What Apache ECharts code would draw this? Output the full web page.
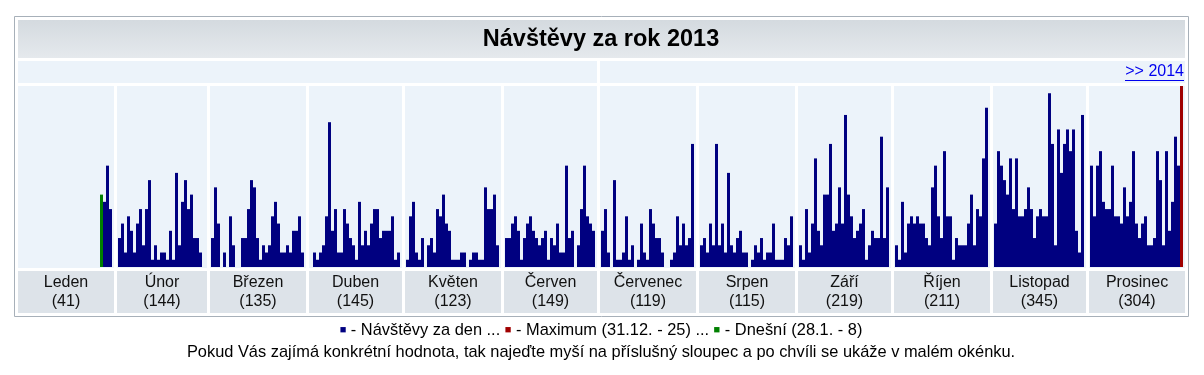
<!DOCTYPE html>
<html><head><meta charset="utf-8">
<script src="https://cdn.jsdelivr.net/npm/echarts@6/dist/echarts.min.js"></script>
<style>html,body{margin:0;padding:0;background:#fff}#c{width:1204px;height:375px}</style>
</head><body><div id="c"></div>
<script>
// ---- data ----
const titleText = 'Návštěvy za rok 2013';
const nextYearLink = '>> 2014';
const monthNames = ['Leden','Únor','Březen','Duben','Květen','Červen','Červenec','Srpen','Září','Říjen','Listopad','Prosinec'];
const leden    = [null,null,null,null,null,null,null,null,null,null,null,null,null,null,null,null,null,null,null,null,null,null,null,null,null,null,null,10,9,14,8];
const unor     = [4,6,2,7,5,2,6,8,3,8,12,1,3,1,2,2,1,5,1,13,3,9,12,8,10,4,4,2];
const brezen   = [4,11,6,0,2,0,7,3,0,0,4,4,8,12,11,4,1,3,2,3,7,9,6,2,2,3,2,5,5,7,2];
const duben    = [0,2,1,2,3,7,20,5,8,2,2,8,6,4,3,1,9,3,5,3,6,8,8,4,5,5,5,7,1,2];
const kveten   = [1,7,9,2,1,4,0,3,4,2,8,7,10,6,5,1,1,1,2,2,0,1,2,2,1,1,11,8,8,10,3];
const cerven   = [4,4,6,7,5,1,4,6,7,5,4,3,4,5,1,4,3,6,2,2,14,4,5,0,3,8,14,7,6,5];
const cervenec = [5,8,2,0,12,1,1,2,7,1,3,0,1,6,2,1,8,6,4,4,2,0,0,1,2,7,3,6,3,4,17];
const srpen    = [3,4,2,6,3,17,3,6,2,13,3,2,4,5,2,2,0,1,3,2,4,1,2,2,6,1,1,1,4,3,7];
const zari     = [3,1,8,2,6,15,5,3,10,10,17,5,6,11,6,21,10,7,4,5,6,8,1,3,5,4,4,18,4,11];
const rijen    = [3,1,9,2,6,7,6,7,6,6,4,3,11,14,7,4,16,7,7,1,4,3,3,3,6,10,3,8,7,15,22];
const listopad = [6,16,14,12,10,15,8,15,7,7,8,11,8,4,7,8,7,7,24,17,3,19,13,17,19,16,19,5,2,21];
const prosinec = [14,7,14,16,9,8,8,14,7,7,6,11,7,9,16,6,4,6,7,3,3,4,16,12,3,16,5,9,18,14,25];
const todayMonth = 0, todayDay = 28;        // green bar (28.1.)
const todayLegend = '28.1. - 8';
const noteText = 'Pokud Vás zajímá konkrétní hodnota, tak najeďte myší na příslušný sloupec a po chvíli se ukáže v malém okénku.';

const months = [leden,unor,brezen,duben,kveten,cerven,cervenec,srpen,zari,rijen,listopad,prosinec];

// ---- derived ----
let maxVal = -1, maxM = 0, maxD = 0;
months.forEach((arr, m) => arr.forEach((v, d) => { if (v != null && v >= maxVal) { maxVal = v; maxM = m; maxD = d + 1; } }));
const totals = months.map(a => a.reduce((s, v) => s + (v || 0), 0));

// ---- layout ----
const FONT = 'Arial, "Liberation Sans", sans-serif';
const NAVY = '#000080', RED = '#a00000', GREEN = '#008000';
const PANEL_BG = '#ecf3fa', LABEL_BG = '#dde3e9';
const plotTop = 86, plotH = 181, panelBottom = 268;
const labTop = 271, labH = 42;
const panelX = [], panelW = [];
let x = 18;
months.forEach(a => { const w = a.length === 28 ? 90 : a.length * 3 + 3; panelX.push(x); panelW.push(w); x += w + 3; });
const leftEdge = 18, rightEdge = x - 3;

const grids = [], xAxes = [], yAxes = [], series = [];
const graphics = [
  { type: 'rect', shape: { x: 14.5, y: 16.5, width: 1174, height: 300 }, style: { fill: '#fff', stroke: '#a7b0b9', lineWidth: 1 }, z: -10 },
  { type: 'rect', shape: { x: leftEdge, y: 20, width: rightEdge - leftEdge, height: 38 },
    style: { fill: new echarts.graphic.LinearGradient(0, 0, 0, 1, [{ offset: 0, color: '#d4dadf' }, { offset: 1, color: '#e5e9ed' }]) }, z: -5 },
  { type: 'text', x: 601, y: 40, style: { text: titleText, font: 'bold 23.5px ' + FONT, fill: '#000', align: 'center', verticalAlign: 'middle' } },
  { type: 'rect', shape: { x: leftEdge, y: 61, width: panelX[6] - 3 - leftEdge, height: 22 }, style: { fill: PANEL_BG }, z: -5 },
  { type: 'rect', shape: { x: panelX[6], y: 61, width: rightEdge - panelX[6], height: 22 }, style: { fill: PANEL_BG }, z: -5 },
  { type: 'text', x: 1184, y: 72, style: { text: nextYearLink, font: '16px ' + FONT, fill: '#0000ee', align: 'right', verticalAlign: 'middle' } },
  { type: 'line', shape: { x1: 1125, y1: 80.5, x2: 1184, y2: 80.5 }, style: { stroke: '#0000ee', lineWidth: 1 } }
];

months.forEach((arr, m) => {
  graphics.push({ type: 'rect', shape: { x: panelX[m], y: plotTop, width: panelW[m], height: panelBottom - plotTop }, style: { fill: PANEL_BG }, z: -5 });
  graphics.push({ type: 'rect', shape: { x: panelX[m], y: labTop, width: panelW[m], height: labH }, style: { fill: LABEL_BG }, z: -5 });
  graphics.push({ type: 'text', x: panelX[m] + panelW[m] / 2, y: labTop + 21,
    style: { text: monthNames[m] + '\n(' + totals[m] + ')', font: '16px ' + FONT, lineHeight: 19, fill: '#111', align: 'center', verticalAlign: 'middle' } });
  grids.push({ left: panelX[m] + 1, top: plotTop, width: arr.length * 3, height: plotH, containLabel: false });
  xAxes.push({ type: 'category', gridIndex: m, data: arr.map((v, i) => i + 1), show: false, boundaryGap: true });
  yAxes.push({ type: 'value', gridIndex: m, min: 0, max: maxVal, show: false, splitLine: { show: false } });
  series.push({
    type: 'bar', xAxisIndex: m, yAxisIndex: m, barCategoryGap: '0%', barWidth: 3,
    itemStyle: { color: NAVY },
    data: arr.map((v, i) => {
      if (m === maxM && i + 1 === maxD) return { value: v, itemStyle: { color: RED } };
      if (m === todayMonth && i + 1 === todayDay) return { value: v, itemStyle: { color: GREEN } };
      return v;
    })
  });
});

const maxLegend = maxD + '.' + (maxM + 1) + '. - ' + maxVal;
graphics.push({ type: 'text', x: 601, y: 330, style: {
  text: '{n|■} - Návštěvy za den ... {r|■} - Maximum (' + maxLegend + ') ... {g|■} - Dnešní (' + todayLegend + ')',
  font: '16.4px ' + FONT, fill: '#000', align: 'center', verticalAlign: 'middle',
  rich: { n: { fill: NAVY, font: '11px ' + FONT }, r: { fill: RED, font: '11px ' + FONT }, g: { fill: GREEN, font: '11px ' + FONT } } } });
graphics.push({ type: 'text', x: 601, y: 352, style: { text: noteText, font: '16.4px ' + FONT, fill: '#000', align: 'center', verticalAlign: 'middle' } });

const chart = echarts.init(document.getElementById('c'), null, { renderer: 'canvas' });
chart.setOption({ animation: false, backgroundColor: '#fff', grid: grids, xAxis: xAxes, yAxis: yAxes, series: series, graphic: { elements: graphics } });
</script></body></html>
